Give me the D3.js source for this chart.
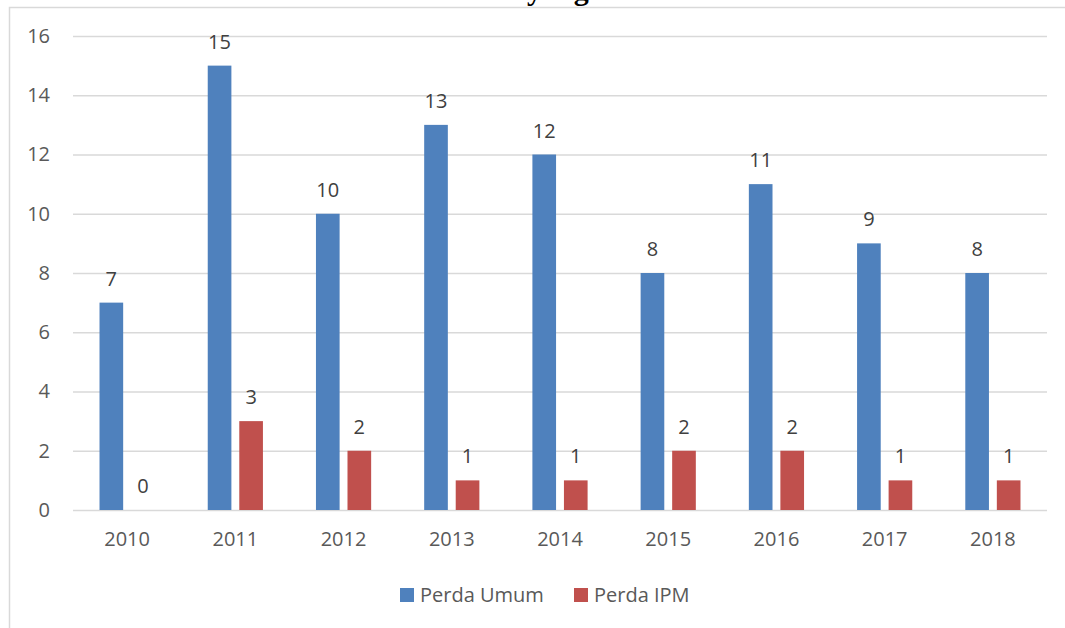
<!DOCTYPE html>
<html>
<head>
<meta charset="utf-8">
<script src="https://cdn.jsdelivr.net/npm/d3@7/dist/d3.min.js"></script>
<style>
  body { margin: 0; background: #fff; }
  svg { display: block; }
</style>
</head>
<body>
<div id="chart"></div>
<script>
// data
var years = ['2010', '2011', '2012', '2013', '2014', '2015', '2016', '2017', '2018'];
var perdaUmum = [7, 15, 10, 13, 12, 8, 11, 9, 8];
var perdaIPM = [0, 3, 2, 1, 1, 2, 2, 1, 1];
var seriesNames = ['Perda Umum', 'Perda IPM'];
var seriesColors = ['#4F81BD', '#C0504D'];
var yTicks = [0, 2, 4, 6, 8, 10, 12, 14, 16];
var title = 'Grafik 4. Peraturan Daerah yang Disahkan Tahun 2010-2018';

var width = 1065;
var height = 628;
var margin = { top: 36, right: 18, bottom: 118, left: 73 };
var font = '"Open Sans", "DejaVu Sans", sans-serif';

var svg = d3.select('#chart')
    .append('svg')
    .attr('width', width)
    .attr('height', height);

// title, mostly cut off by the top of the page
svg.append('text')
    .attr('x', 553)
    .attr('y', 0)
    .attr('text-anchor', 'middle')
    .attr('font-family', '"Liberation Serif", "DejaVu Serif", serif')
    .attr('font-weight', 'bold')
    .attr('font-size', 30)
    .attr('fill', '#000')
    .text(title);

// chart frame
svg.append('rect')
    .attr('x', 9.5)
    .attr('y', 7.5)
    .attr('width', width)
    .attr('height', height)
    .attr('fill', 'none')
    .attr('stroke', '#d9d9d9')
    .attr('stroke-width', 1.5);

var x0 = d3.scaleBand()
    .domain(years)
    .range([margin.left, width - margin.right])
    .paddingInner(0.49)
    .paddingOuter(0.245);

var x1 = d3.scaleBand()
    .domain(seriesNames)
    .range([0, x0.bandwidth()])
    .paddingInner(0.25);

var yScale = d3.scaleLinear()
    .domain([0, 16])
    .range([height - margin.bottom, margin.top]);

//y axis with gridlines
var yAxis = d3.axisLeft(yScale)
    .tickValues(yTicks)
    .tickSizeInner(-(width - margin.left - margin.right))
    .tickSizeOuter(0)
    .tickPadding(23);

var gy = svg.append('g')
    .attr('transform', 'translate(' + margin.left + ',0)')
    .call(yAxis);
gy.select('.domain').remove();
gy.selectAll('.tick line')
    .attr('stroke', '#d9d9d9')
    .attr('stroke-width', 1.5);
gy.selectAll('.tick text')
    .attr('font-family', font)
    .attr('font-size', 20)
    .attr('fill', '#595959');

//x axis labels
var xAxis = d3.axisBottom(x0)
    .tickSize(0)
    .tickPadding(22);

var gx = svg.append('g')
    .attr('transform', 'translate(0,' + (height - margin.bottom) + ')')
    .call(xAxis);
gx.select('.domain').remove();
gx.selectAll('.tick text')
    .attr('font-family', font)
    .attr('font-size', 20)
    .attr('fill', '#595959');

var rows = years.map(function(y, i) {
    return { year: y, values: [perdaUmum[i], perdaIPM[i]] };
});

var groups = svg.append('g')
    .selectAll('g')
    .data(rows)
    .enter()
    .append('g')
    .attr('transform', function(d) { return 'translate(' + x0(d.year) + ',0)'; });

groups.selectAll('rect')
    .data(function(d) {
        return d.values.map(function(v, k) { return { name: seriesNames[k], value: v, k: k }; });
    })
    .enter()
    .append('rect')
    .attr('x', function(d) { return x1(d.name); })
    .attr('y', function(d) { return yScale(d.value); })
    .attr('width', x1.bandwidth())
    .attr('height', function(d) { return yScale(0) - yScale(d.value); })
    .attr('fill', function(d) { return seriesColors[d.k]; });

// data labels
groups.selectAll('text')
    .data(function(d) {
        return d.values.map(function(v, k) { return { name: seriesNames[k], value: v }; });
    })
    .enter()
    .append('text')
    .attr('x', function(d) { return x1(d.name) + x1.bandwidth() / 2; })
    .attr('y', function(d) { return yScale(d.value) - 17; })
    .attr('text-anchor', 'middle')
    .attr('font-family', font)
    .attr('font-size', 20)
    .attr('fill', '#404040')
    .text(function(d) { return d.value; });

// legend
var legendX = [400, 574];
var legend = svg.append('g')
    .selectAll('g')
    .data(seriesNames)
    .enter()
    .append('g')
    .attr('transform', function(d, i) { return 'translate(' + legendX[i] + ',588)'; });

legend.append('rect')
    .attr('width', 14)
    .attr('height', 14)
    .attr('fill', function(d, i) { return seriesColors[i]; });

legend.append('text')
    .attr('x', 20)
    .attr('y', 14)
    .attr('font-family', font)
    .attr('font-size', 20)
    .attr('fill', '#595959')
    .text(function(d) { return d; });
</script>
</body>
</html>
